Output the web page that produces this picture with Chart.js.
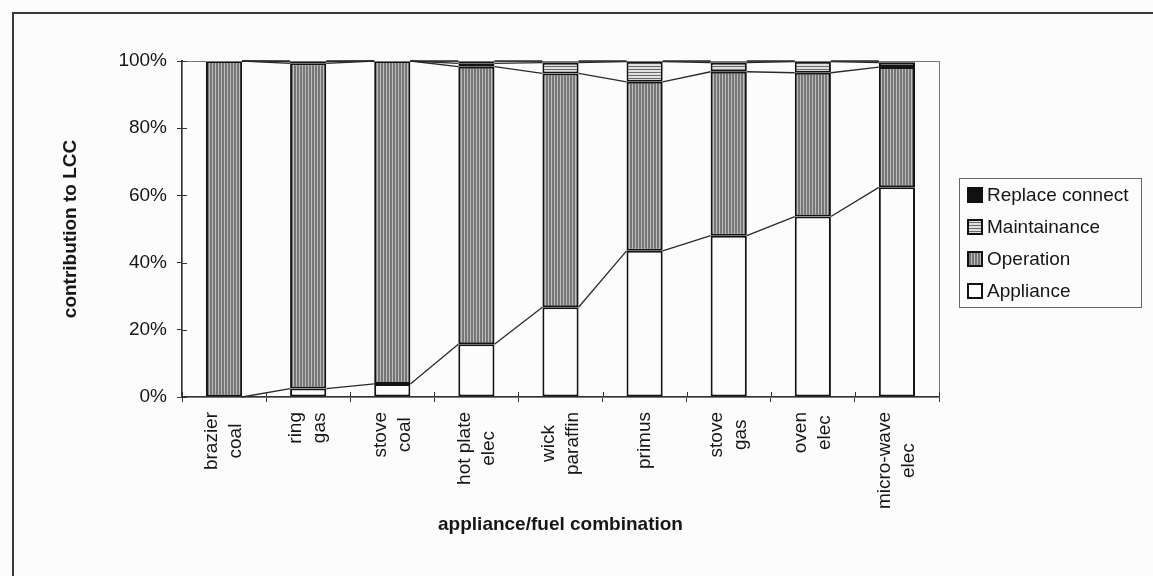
<!DOCTYPE html>
<html lang="en">
<head>
<meta charset="UTF-8">
<title>Contribution to LCC by appliance/fuel combination</title>
<style>
  html, body { margin: 0; padding: 0; background: #fcfcfc; }
  body { width: 1153px; height: 576px; overflow: hidden; position: relative; }
  #lcc { position: absolute; left: 0; top: 0; }
  #frame { position: absolute; left: 12px; top: 12px; width: 1200px; height: 600px;
           border-left: 2px solid #3a3a3a; border-top: 2px solid #3a3a3a; pointer-events: none; }
</style>
</head>
<body>
<canvas id="lcc" width="1153" height="576"></canvas>
<div id="frame"></div>
<script src="https://cdn.jsdelivr.net/npm/chart.js@4.4.1/dist/chart.umd.min.js"></script>
<script>
// appliance/fuel combinations (two-line labels)
const categories = [
  ['brazier', 'coal'], ['ring', 'gas'], ['stove', 'coal'], ['hot plate', 'elec'],
  ['wick', 'paraffin'], ['primus'], ['stove', 'gas'], ['oven', 'elec'], ['micro-wave', 'elec']
];
// share of life cycle cost, %
const appliance      = [0,     2.5,  3.9,  15.7, 26.7, 43.5, 48.0, 53.7, 62.4];
const operation      = [100,   96.8, 96.1, 82.6, 69.6, 50.3, 48.8, 42.8, 35.8];
const maintainance   = [0,     0.5,  0,    1.0,  3.2,  6.0,  2.7,  3.3,  1.3];
const replaceConnect = [0,     0.2,  0,    0.7,  0.5,  0.2,  0.5,  0.2,  0.5];

const FONT = '"Liberation Sans", Arial, Helvetica, sans-serif';
const INK = '#161616';

const canvas = document.getElementById('lcc');
const ctx = canvas.getContext('2d');

function stripes(vertical) {
  const c = document.createElement('canvas');
  c.width = 3; c.height = 3;
  const g = c.getContext('2d');
  g.fillStyle = vertical ? '#bdbdbd' : '#e0e0e0';
  g.fillRect(0, 0, 3, 3);
  g.fillStyle = vertical ? '#767676' : '#6a6a6a';
  if (vertical) g.fillRect(0, 0, 2, 3); else g.fillRect(0, 0, 3, 1);
  return ctx.createPattern(c, 'repeat');
}
const opFill = stripes(true);
const mtFill = stripes(false);

const decorations = {
  id: 'decorations',
  beforeDraw(chart) {
    const c = chart.ctx;
    c.save();
    c.fillStyle = '#fcfcfc';
    c.fillRect(0, 0, chart.width, chart.height);
    c.restore();
  },
  afterDatasetsDraw(chart) {
    const c = chart.ctx;
    const a = chart.chartArea;
    c.save();
    // plot area outline
    c.strokeStyle = '#777';
    c.lineWidth = 1;
    c.strokeRect(a.left + 0.5, a.top + 0.5, a.right - a.left, a.bottom - a.top);
    // series lines joining segment tops of neighbouring bars
    c.strokeStyle = '#2a2a2a';
    c.lineWidth = 1.3;
    chart.data.datasets.forEach((ds, d) => {
      const bars = chart.getDatasetMeta(d).data;
      for (let i = 0; i < bars.length - 1; i++) {
        const p = bars[i], q = bars[i + 1];
        c.beginPath();
        c.moveTo(p.x + p.width / 2, p.y);
        c.lineTo(q.x - q.width / 2, q.y);
        c.stroke();
      }
    });
    // inner half of the crossing tick marks
    c.strokeStyle = '#333';
    c.lineWidth = 1;
    const ys = chart.scales.y;
    ys.ticks.forEach((t, i) => {
      const py = Math.round(ys.getPixelForTick(i)) + 0.5;
      c.beginPath(); c.moveTo(a.left, py); c.lineTo(a.left + 5, py); c.stroke();
    });
    const xs = chart.scales.x;
    const half = (xs.getPixelForTick(1) - xs.getPixelForTick(0)) / 2;
    for (let i = 0; i <= categories.length; i++) {
      const px = Math.round(xs.getPixelForTick(0) - half + i * half * 2) + 0.5;
      c.beginPath(); c.moveTo(px, a.bottom - 5); c.lineTo(px, a.bottom); c.stroke();
    }
    c.restore();
  },
  afterDraw(chart) {
    const c = chart.ctx;
    const a = chart.chartArea;
    const xs = chart.scales.x;
    c.save();
    c.fillStyle = INK;
    c.font = '19px ' + FONT;
    // rotated category labels, each block centred on its bar
    categories.forEach((lines, i) => {
      const px = xs.getPixelForTick(i);
      const maxW = Math.max(...lines.map(t => c.measureText(t).width));
      const cy = a.bottom + 15 + maxW / 2;
      lines.forEach((t, k) => {
        const x = px + (k - (lines.length - 1) / 2) * 24;
        c.save();
        c.translate(x, cy);
        c.rotate(-Math.PI / 2);
        c.textAlign = 'center';
        c.textBaseline = 'middle';
        c.fillText(t, 0, 0);
        c.restore();
      });
    });
    // legend, top series first
    const lx = a.right + 20, ly = a.top + 117, lw = 182, lh = 129;
    c.fillStyle = '#fcfcfc';
    c.fillRect(lx, ly, lw, lh);
    c.strokeStyle = '#666';
    c.lineWidth = 1;
    c.strokeRect(lx + 0.5, ly + 0.5, lw, lh);
    const items = chart.data.datasets.slice().reverse();
    items.forEach((ds, k) => {
      const yc = ly + 17 + k * 32;
      c.fillStyle = ds.backgroundColor;
      c.fillRect(lx + 9, yc - 7, 14, 14);
      c.strokeStyle = '#111';
      c.lineWidth = 2;
      c.strokeRect(lx + 9, yc - 7, 14, 14);
      c.fillStyle = INK;
      c.textAlign = 'left';
      c.textBaseline = 'middle';
      c.fillText(ds.label, lx + 28, yc + 1);
    });
    c.restore();
  }
};

const bar = (label, data, fill) => ({
  label, data,
  backgroundColor: fill,
  borderColor: '#141414',
  borderWidth: 2,
  borderSkipped: false,
  categoryPercentage: 1,
  barPercentage: 0.43
});

new Chart(canvas, {
  type: 'bar',
  data: {
    labels: categories,
    datasets: [
      bar('Appliance', appliance, '#fcfcfc'),
      bar('Operation', operation, opFill),
      bar('Maintainance', maintainance, mtFill),
      bar('Replace connect', replaceConnect, '#111')
    ]
  },
  options: {
    responsive: false,
    animation: false,
    layout: { padding: { left: 55, top: 61, right: 214, bottom: 36 } },
    plugins: { legend: { display: false }, tooltip: { enabled: false } },
    scales: {
      x: {
        stacked: true,
        grid: { drawOnChartArea: false, tickLength: 5, color: '#333' },
        border: { color: '#333', width: 2 },
        ticks: { display: false },
        title: {
          display: true, text: 'appliance/fuel combination', color: INK,
          font: { family: FONT, size: 19, weight: 'bold' }, padding: { top: 0, bottom: 4 }
        },
        afterFit(s) { s.height = 143; }
      },
      y: {
        stacked: true,
        min: 0, max: 100,
        grid: { drawOnChartArea: false, tickLength: 5, color: '#333' },
        border: { color: '#333', width: 2 },
        ticks: {
          stepSize: 20, padding: 10, color: INK,
          font: { family: FONT, size: 19 },
          callback: v => v + '%'
        },
        title: {
          display: true, text: 'contribution to LCC', color: INK,
          font: { family: FONT, size: 19, weight: 'bold' }, padding: { top: 4, bottom: 0 }
        },
        afterFit(s) { s.width = 127; }
      }
    }
  },
  plugins: [decorations]
});
</script>
</body>
</html>
